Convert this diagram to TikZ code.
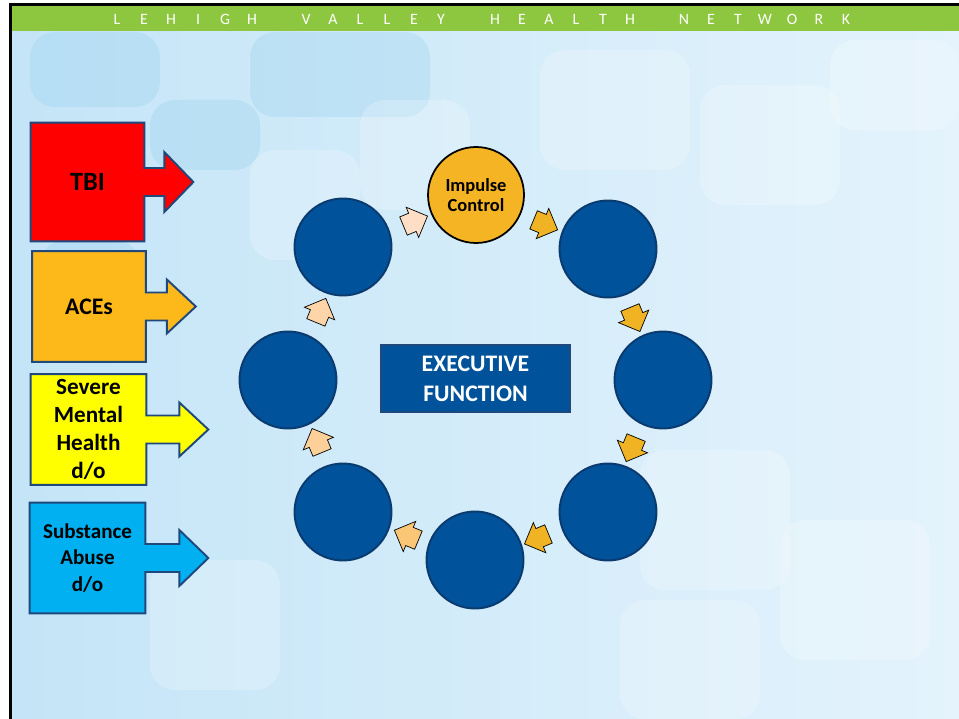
\documentclass[tikz,border=0pt]{standalone}
\usepackage{fontspec}
\setmainfont{Carlito}
\usetikzlibrary{shapes.arrows,backgrounds,calc}
\definecolor{lvhngreen}{RGB}{141,198,63}
\definecolor{ringblue}{RGB}{0,82,155}
\definecolor{ringedge}{RGB}{10,58,110}
\definecolor{impulseorange}{RGB}{245,180,36}
\definecolor{arroworange}{RGB}{240,179,35}
\definecolor{peachA}{RGB}{251,198,118}
\definecolor{peachB}{RGB}{253,208,154}
\definecolor{peachC}{RGB}{254,213,168}
\definecolor{peachD}{RGB}{254,222,196}
\definecolor{tbired}{RGB}{255,0,0}
\definecolor{acesorange}{RGB}{252,185,25}
\definecolor{mhyellow}{RGB}{255,255,0}
\definecolor{subblue}{RGB}{0,176,240}
\definecolor{boxedge}{RGB}{31,73,125}
\definecolor{bgleft}{RGB}{196,229,247}
\definecolor{bgright}{RGB}{228,243,252}
\definecolor{tileblue}{RGB}{150,206,238}

\begin{document}
\begin{tikzpicture}[
    x=0.02cm, y=-0.02cm,
    header/.style={text=white, font=\fontsize{9}{10}\selectfont, inner sep=0pt},
    cause/.style={align=center, inner sep=0pt, minimum width=2.26cm, minimum height=2.2cm, font=\bfseries\fontsize{13.2}{15.9}\selectfont},
    ring/.style={circle, draw=ringedge, line width=1.1pt, fill=ringblue, minimum size=1.94cm},
    cyclearrow/.style={single arrow, draw=black, line width=0.4pt, inner xsep=0.07cm, inner ysep=0.19cm, single arrow head extend=0.13cm, minimum height=0.52cm},
    outline/.style={draw=boxedge, line width=1.1pt}
]
    \useasboundingbox (0,0) rectangle (959,719);

    % Header
    \foreach \ch [count=\i from 0] in {L,E,H,I,G,H,,V,A,L,L,E,Y,,H,E,A,L,T,H,,N,E,T,W,O,R,K}
        \node[header] (h\i) at (117+27*\i,19) {\ch};

    % Causes
    \node[cause, minimum height=2.36cm, font=\bfseries\fontsize{15}{18}\selectfont] (tbi) at (87.5,182) {TBI};
    \node[cause, font=\bfseries\fontsize{13.5}{16}\selectfont] (aces) at (89,306.5) {ACEs};
    \node[cause, minimum width=2.3cm] (smh) at (88.5,429.5) {Severe\\Mental\\Health\\d/o};
    \node[cause, minimum width=2.3cm, font=\bfseries\fontsize{12}{15.3}\selectfont] (sub) at (87.5,558) {Substance\\Abuse\\d/o};

    % Ring
    \node[circle, draw=black, line width=1pt, fill=impulseorange, minimum size=1.92cm, align=center, font=\bfseries\fontsize{10.5}{11.5}\selectfont] (impulse) at (476,195) {Impulse\\Control};
    \node[ring] (topright) at (608,249) {};
    \node[ring] (right) at (663,380) {};
    \node[ring] (botright) at (608,512) {};
    \node[ring] (bottom) at (475,560) {};
    \node[ring] (botleft) at (343,512) {};
    \node[ring] (left) at (288,380) {};
    \node[ring] (topleft) at (343,247) {};

    \node[fill=ringblue, draw=boxedge, line width=0.8pt, minimum width=3.78cm, minimum height=1.34cm, align=center, text=white, font=\bfseries\fontsize{13.5}{17}\selectfont] (exec) at (475.5,378.5) {EXECUTIVE\\FUNCTION};

    \foreach \a/\c [count=\i] in {67.5/arroworange, 22.5/arroworange, -22.5/arroworange, -67.5/arroworange, -112.5/peachA, -157.5/peachB, 157.5/peachC, 112.5/peachD}
        \node[cyclearrow, fill=\c, rotate=\a-90] (step\i) at ({476+170*cos(\a)},{380-170*sin(\a)}) {};

    % Slide background
    \begin{scope}[on background layer]
        \fill[white] (0,0) rectangle (959,719);
        \shade[left color=bgleft, right color=bgright] (12,31) rectangle (959,719);
        \foreach \x/\y/\w/\h in {30/32/130/75, 250/32/180/85, 150/100/110/70, 40/240/100/120}
            \fill[tileblue, opacity=0.3, rounded corners=0.5cm] (\x,\y) rectangle ++(\w,\h);
        \foreach \x/\y/\w/\h in {540/50/150/120, 700/85/140/120, 830/40/129/90, 360/100/110/110, 640/450/150/140, 780/520/150/140, 250/150/110/110, 150/560/130/130, 620/600/140/119}
            \fill[white, opacity=0.22, rounded corners=0.5cm] (\x,\y) rectangle ++(\w,\h);
        \fill[lvhngreen] (12,6) rectangle (959,31);
        \draw[black, line width=1.7pt] (10.5,719) -- (10.5,4.5) -- (959,4.5);
        \foreach \n/\c/\s/\h in {tbi/tbired/20/30, aces/acesorange/21/27, smh/mhyellow/33/27, sub/subblue/34/28}
            \draw[outline, fill=\c] (\n.north west) -- (\n.north east) -- ($(\n.east)+(0,-14)$) -- ++(\s,0) -- ++(0,-\h+14)
                -- ($(\n.east)+(\s+29,0)$) -- ($(\n.east)+(\s,\h)$) -- ++(0,-\h+14) -- ($(\n.east)+(0,14)$)
                -- (\n.south east) -- (\n.south west) -- cycle;
    \end{scope}
\end{tikzpicture}
\end{document}
